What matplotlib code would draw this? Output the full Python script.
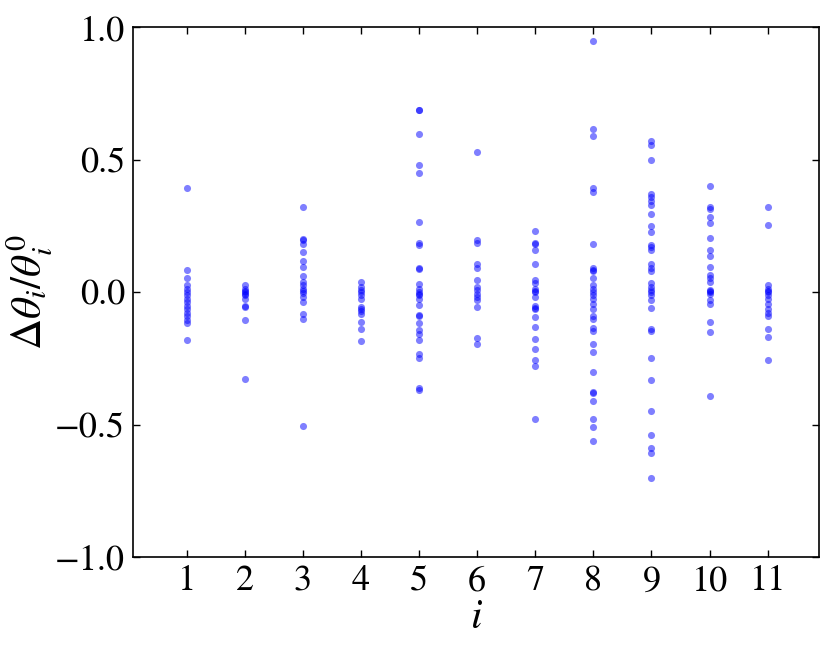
import matplotlib
matplotlib.use('Agg')
import matplotlib.pyplot as plt

plt.rcParams['font.family'] = 'STIXGeneral'
plt.rcParams['mathtext.fontset'] = 'stix'

# relative change of each parameter theta_i
col1 = [0.393, 0.083, 0.055, 0.027, 0.014, 0.001, -0.012, -0.025, -0.038, -0.051,
        -0.064, -0.077, -0.090, -0.103, -0.116, -0.179]
col2 = [0.027, 0.014, 0.005, 0.0, -0.006, -0.012, -0.025, -0.051, -0.057, -0.104, -0.326]
col3 = [0.321, 0.202, 0.198, 0.183, 0.153, 0.118, 0.096, 0.060, 0.040, 0.027, 0.014,
        0.005, -0.001, -0.018, -0.038, -0.081, -0.101, -0.506]
col4 = [0.038, 0.021, 0.010, 0.001, -0.012, -0.027, -0.057, -0.063, -0.070, -0.083,
        -0.113, -0.137, -0.185]
col5 = [0.689, 0.687, 0.599, 0.480, 0.449, 0.264, 0.186, 0.177, 0.092, 0.089, 0.030,
        0.014, 0.001, -0.005, -0.012, -0.025, -0.048, -0.087, -0.090, -0.116, -0.144,
        -0.157, -0.181, -0.235, -0.250, -0.360, -0.369]
col6 = [0.529, 0.196, 0.187, 0.108, 0.092, 0.047, 0.021, 0.008, -0.005, -0.018,
        -0.031, -0.055, -0.173, -0.195]
col7 = [0.231, 0.187, 0.184, 0.159, 0.105, 0.047, 0.034, 0.014, 0.005, 0.001, -0.018,
        -0.051, -0.058, -0.064, -0.092, -0.131, -0.177, -0.213, -0.256, -0.278, -0.477]
col8 = [0.949, 0.618, 0.590, 0.392, 0.378, 0.183, 0.092, 0.085, 0.079, 0.053, 0.027,
        0.014, 0.001, -0.010, -0.025, -0.044, -0.064, -0.090, -0.100, -0.135, -0.148,
        -0.194, -0.224, -0.300, -0.376, -0.380, -0.411, -0.480, -0.510, -0.563]
col9 = [0.573, 0.558, 0.498, 0.372, 0.359, 0.343, 0.330, 0.296, 0.250, 0.226, 0.177,
        0.170, 0.161, 0.105, 0.092, 0.082, 0.034, 0.021, 0.010, 0.001, -0.012, -0.031,
        -0.061, -0.138, -0.146, -0.250, -0.333, -0.449, -0.538, -0.590, -0.607, -0.701]
col10 = [0.402, 0.322, 0.316, 0.285, 0.261, 0.203, 0.160, 0.138, 0.094, 0.066, 0.053,
         0.040, 0.008, 0.004, 0.001, -0.005, -0.031, -0.044, -0.111, -0.151, -0.391]
col11 = [0.322, 0.254, 0.027, 0.014, 0.005, 0.001, -0.012, -0.027, -0.044, -0.064,
         -0.077, -0.090, -0.139, -0.168, -0.255]

columns = [col1, col2, col3, col4, col5, col6, col7, col8, col9, col10, col11]
index = list(range(1, 12))

fig = plt.figure(figsize=(8.31, 6.5), dpi=100)
ax = fig.add_axes([0.1604, 0.1431, 0.8256, 0.8146])

for i, vals in zip(index, columns):
    ax.scatter([i] * len(vals), vals, s=26, color='b', alpha=0.5, linewidths=0)

ax.set_xlim(0.08, 11.89)
ax.set_ylim(-1.0, 1.0)
ax.set_xticks(index)
ax.set_yticks([-1.0, -0.5, 0.0, 0.5, 1.0])
ax.set_yticklabels(['\u22121.0', '\u22120.5', '0.0', '0.5', '1.0'])
ax.tick_params(direction='in', length=5, width=1, labelsize=26, top=True, right=True, pad=6)
for sp in ax.spines.values():
    sp.set_linewidth(1.2)

ax.set_xlabel('$i$', fontsize=30, labelpad=1)
ax.set_ylabel(r'$\Delta\theta_i/\theta_i^0$', fontsize=31, labelpad=0)

fig.savefig('out.png', dpi=100)
